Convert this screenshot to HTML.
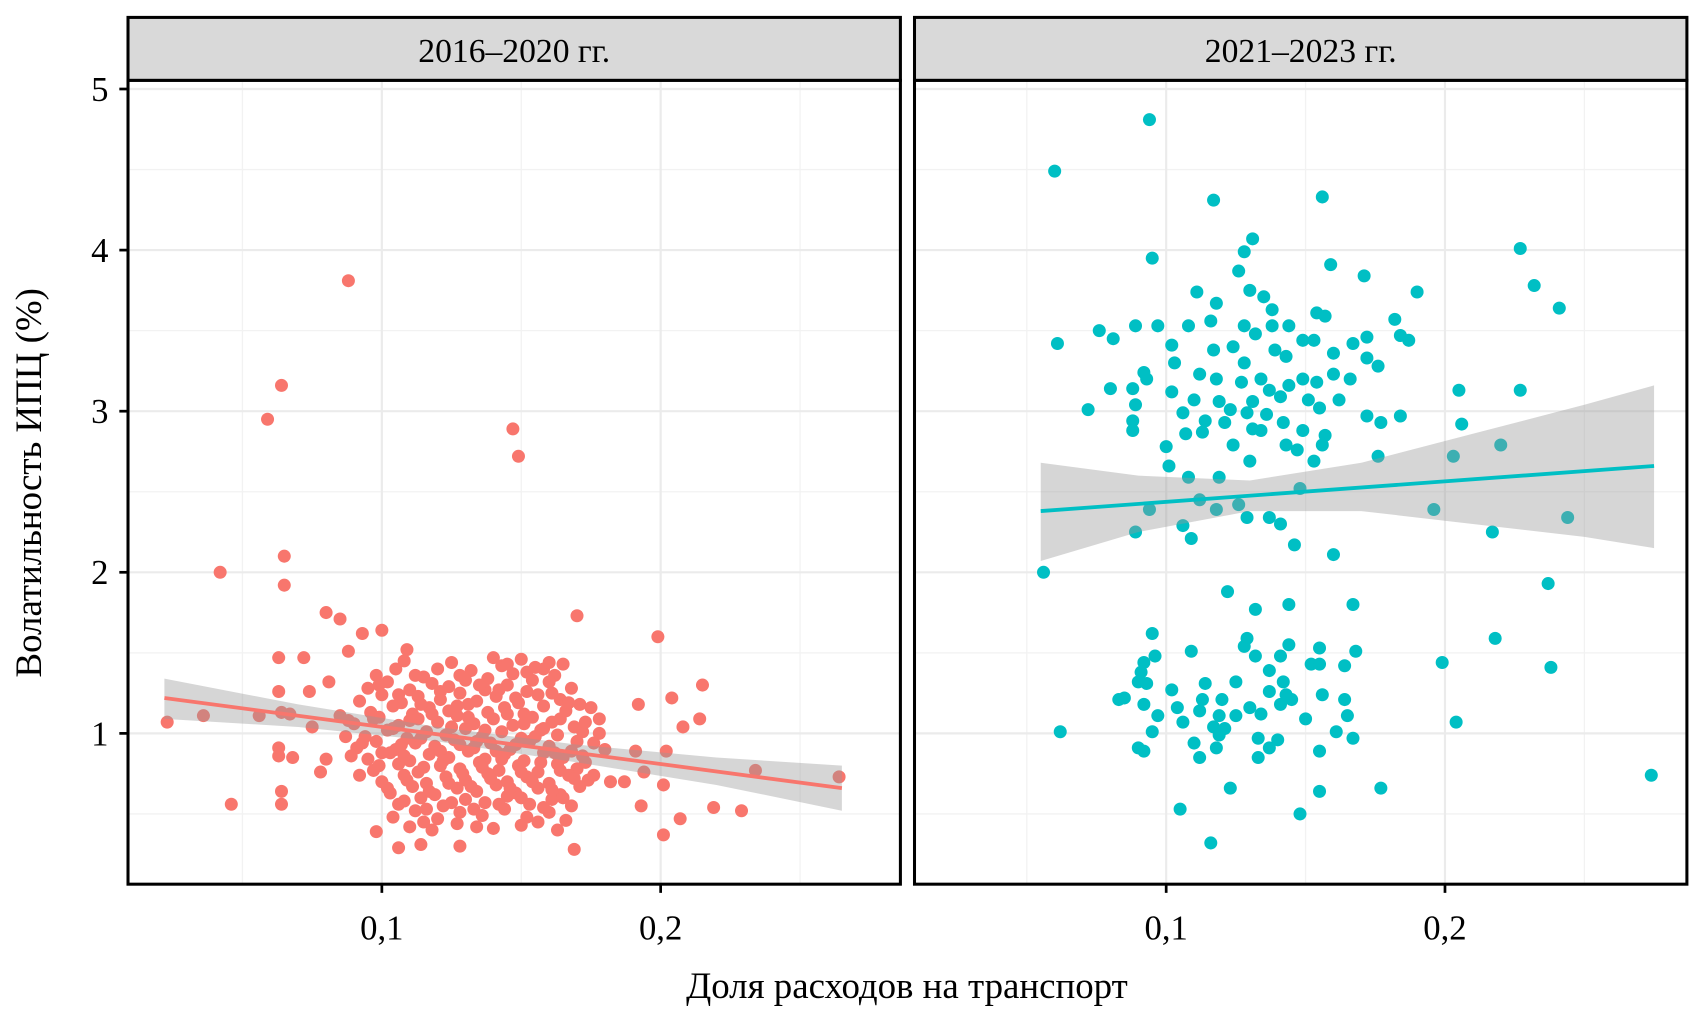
<!DOCTYPE html>
<html><head><meta charset="utf-8"><style>
html,body{margin:0;padding:0;background:#fff}
svg{display:block}
text{font-family:"Liberation Serif",serif;fill:#000}
</style></head><body>
<svg id="chart" width="1701" height="1022" viewBox="0 0 1568 942" xmlns="http://www.w3.org/2000/svg"></svg>
<script>
const yTicks=[1,2,3,4,5];
const yTickLabels=["1","2","3","4","5"];
const xTicks=[0.1,0.2];
const xTickLabels=["0,1","0,2"];
const panelTitles=["2016–2020 гг.","2021–2023 гг."];
const xTitle="Доля расходов на транспорт";
const yTitle="Волатильность ИПЦ (%)";

const p1Points=[[0.088,3.81],[0.064,3.16],[0.059,2.95],[0.147,2.89],[0.149,2.72],[0.042,2.00],[0.065,2.10],[0.065,1.92],[0.080,1.75],[0.085,1.71],[0.170,1.73],[0.199,1.60],[0.093,1.62],[0.100,1.64],[0.109,1.52],[0.088,1.51],[0.063,1.47],[0.072,1.47],[0.023,1.07],[0.036,1.11],[0.056,1.11],[0.046,0.56],[0.064,0.56],[0.064,0.64],[0.063,0.86],[0.068,0.85],[0.063,0.91],[0.078,0.76],[0.080,0.84],[0.098,0.39],[0.106,0.29],[0.114,0.31],[0.128,0.30],[0.169,0.28],[0.201,0.37],[0.207,0.47],[0.219,0.54],[0.229,0.52],[0.193,0.55],[0.234,0.77],[0.264,0.73],[0.215,1.30],[0.204,1.22],[0.192,1.18],[0.208,1.04],[0.214,1.09],[0.202,0.89],[0.191,0.89],[0.194,0.76],[0.187,0.70],[0.182,0.70],[0.201,0.68],[0.063,1.26],[0.064,1.13],[0.067,1.12],[0.074,1.26],[0.081,1.32],[0.085,1.11],[0.075,1.04],
[0.125,1.44],[0.140,1.47],[0.143,1.42],[0.150,1.46],[0.158,1.40],[0.165,1.43],
[0.098,1.36],[0.105,1.40],[0.115,1.35],[0.132,1.39],[0.138,1.34],[0.147,1.37],[0.155,1.41],[0.162,1.36],
[0.095,1.28],[0.102,1.32],[0.110,1.27],[0.118,1.31],[0.124,1.29],[0.130,1.33],[0.137,1.27],[0.145,1.30],[0.152,1.26],[0.160,1.32],[0.168,1.28],
[0.092,1.20],[0.100,1.24],[0.107,1.19],[0.113,1.23],[0.121,1.21],[0.128,1.25],[0.134,1.20],[0.141,1.23],[0.149,1.19],[0.156,1.24],[0.164,1.21],[0.171,1.18],
[0.096,1.13],[0.104,1.17],[0.111,1.12],[0.117,1.16],[0.124,1.14],[0.131,1.18],[0.138,1.13],[0.144,1.16],[0.151,1.12],[0.158,1.17],[0.166,1.14],[0.175,1.16],
[0.090,1.06],[0.099,1.10],[0.106,1.05],[0.113,1.09],[0.120,1.07],[0.127,1.11],[0.133,1.06],[0.140,1.09],[0.147,1.05],[0.154,1.10],[0.161,1.07],[0.169,1.04],[0.178,1.09],
[0.094,0.98],[0.102,1.02],[0.109,0.97],[0.116,1.01],[0.123,0.99],[0.130,1.03],[0.136,0.98],[0.143,1.01],[0.150,0.97],[0.157,1.02],[0.163,0.99],[0.172,1.01],
[0.091,0.91],[0.098,0.95],[0.105,0.90],[0.112,0.94],[0.119,0.92],[0.126,0.96],[0.133,0.91],[0.139,0.94],[0.146,0.90],[0.153,0.95],[0.160,0.92],[0.168,0.89],[0.176,0.94],
[0.095,0.84],[0.103,0.88],[0.110,0.83],[0.117,0.87],[0.124,0.85],[0.131,0.89],[0.137,0.84],[0.144,0.87],[0.151,0.83],[0.158,0.88],[0.165,0.85],[0.173,0.82],
[0.097,0.77],[0.106,0.81],[0.113,0.76],[0.121,0.80],[0.128,0.78],[0.135,0.82],[0.142,0.77],[0.149,0.80],[0.156,0.76],[0.163,0.81],[0.170,0.78],
[0.100,0.70],[0.108,0.74],[0.116,0.69],[0.123,0.73],[0.130,0.71],[0.138,0.75],[0.145,0.70],[0.152,0.73],[0.160,0.69],[0.167,0.74],[0.174,0.71],
[0.103,0.63],[0.111,0.67],[0.119,0.62],[0.127,0.66],[0.134,0.64],[0.141,0.68],[0.148,0.63],[0.156,0.66],[0.164,0.62],[0.171,0.67],
[0.106,0.56],[0.114,0.60],[0.122,0.55],[0.130,0.59],[0.137,0.57],[0.145,0.61],[0.153,0.56],[0.161,0.59],[0.168,0.55],
[0.104,0.48],[0.112,0.52],[0.120,0.47],[0.128,0.51],[0.136,0.49],[0.144,0.53],[0.152,0.48],[0.160,0.51],[0.166,0.46],
[0.110,0.42],[0.118,0.40],[0.127,0.44],[0.140,0.41],[0.150,0.43],[0.163,0.40]];

const p1Extra=[[0.099,1.30],[0.106,1.24],[0.114,1.18],[0.121,1.26],[0.127,1.17],[0.135,1.30],[0.142,1.27],[0.148,1.22],[0.154,1.33],[0.161,1.25],[0.167,1.19],
[0.097,1.09],[0.104,1.03],[0.110,1.08],[0.118,1.12],[0.125,1.04],[0.131,1.10],[0.137,1.02],[0.145,1.12],[0.151,1.06],[0.158,1.03],[0.164,1.09],[0.173,1.07],
[0.093,0.94],[0.100,0.88],[0.107,0.93],[0.114,0.97],[0.121,0.89],[0.128,0.93],[0.134,0.95],[0.141,0.89],[0.148,0.93],[0.155,0.98],[0.162,0.88],[0.170,0.95],
[0.099,0.80],[0.108,0.86],[0.115,0.79],[0.122,0.83],[0.129,0.75],[0.136,0.79],[0.143,0.84],[0.150,0.76],[0.157,0.82],[0.164,0.77],[0.172,0.86],
[0.102,0.66],[0.109,0.71],[0.117,0.64],[0.124,0.69],[0.132,0.67],[0.139,0.72],[0.146,0.66],[0.154,0.70],[0.161,0.65],[0.169,0.72],
[0.108,0.58],[0.116,0.53],[0.125,0.57],[0.133,0.53],[0.142,0.56],[0.150,0.60],[0.158,0.54],[0.165,0.60],
[0.112,1.36],[0.120,1.40],[0.128,1.36],[0.145,1.43],[0.152,1.38],[0.160,1.44],[0.108,1.45],[0.088,1.08],[0.087,0.98],[0.089,0.86],[0.092,0.74],[0.180,0.90],[0.178,1.00],[0.176,0.74],[0.115,0.45],[0.134,0.42],[0.156,0.45]];

const p2Points=[[0.094,4.81],[0.060,4.49],[0.117,4.31],[0.156,4.33],[0.131,4.07],[0.095,3.95],[0.128,3.99],[0.159,3.91],[0.171,3.84],[0.227,4.01],[0.232,3.78],[0.241,3.64],[0.190,3.74],[0.126,3.87],[0.111,3.74],[0.118,3.67],[0.130,3.75],[0.135,3.71],[0.138,3.63],[0.154,3.61],[0.157,3.59],[0.076,3.50],[0.081,3.45],[0.089,3.53],[0.097,3.53],[0.061,3.42],[0.102,3.41],[0.108,3.53],[0.116,3.56],[0.128,3.53],[0.132,3.48],[0.138,3.53],[0.144,3.53],[0.149,3.44],[0.153,3.44],[0.167,3.42],[0.172,3.46],[0.182,3.57],[0.184,3.47],[0.187,3.44],[0.103,3.30],[0.117,3.38],[0.124,3.40],[0.128,3.30],[0.139,3.38],[0.143,3.34],[0.160,3.36],[0.172,3.33],[0.176,3.28],[0.092,3.24],[0.093,3.20],[0.080,3.14],[0.088,3.14],[0.112,3.23],[0.118,3.20],[0.127,3.18],[0.134,3.20],[0.137,3.13],[0.144,3.16],[0.149,3.20],[0.154,3.18],[0.160,3.23],[0.166,3.20],[0.102,3.12],[0.110,3.07],[0.119,3.06],[0.131,3.06],[0.141,3.09],[0.151,3.07],[0.162,3.07],[0.205,3.13],[0.227,3.13],[0.089,3.04],[0.072,3.01],[0.106,2.99],[0.123,3.01],[0.129,2.99],[0.136,2.98],[0.155,3.02],[0.172,2.97],[0.184,2.97],[0.088,2.94],[0.114,2.94],[0.121,2.93],[0.142,2.93],[0.177,2.93],[0.149,2.88],[0.088,2.88],[0.107,2.86],[0.113,2.87],[0.131,2.89],[0.134,2.88],[0.157,2.85],[0.206,2.92],[0.100,2.78],[0.124,2.79],[0.143,2.79],[0.147,2.76],[0.156,2.79],[0.220,2.79],[0.101,2.66],[0.130,2.69],[0.153,2.69],[0.176,2.72],[0.203,2.72],[0.108,2.59],[0.119,2.59],[0.148,2.52],[0.112,2.45],[0.118,2.39],[0.094,2.39],[0.126,2.42],[0.129,2.34],[0.137,2.34],[0.141,2.30],[0.196,2.39],[0.244,2.34],[0.089,2.25],[0.106,2.29],[0.109,2.21],[0.146,2.17],[0.160,2.11],[0.217,2.25],[0.056,2.00],[0.237,1.93],[0.122,1.88],[0.132,1.77],[0.144,1.80],[0.167,1.80],[0.218,1.59],[0.095,1.62],[0.129,1.59],[0.128,1.54],[0.109,1.51],[0.144,1.55],[0.155,1.53],[0.168,1.51],[0.096,1.48],[0.132,1.48],[0.141,1.48],[0.199,1.44],[0.238,1.41],[0.092,1.44],[0.152,1.43],[0.155,1.43],[0.164,1.42],[0.091,1.38],[0.137,1.39],[0.090,1.32],[0.093,1.31],[0.114,1.31],[0.125,1.32],[0.142,1.32],[0.137,1.26],[0.156,1.24],[0.102,1.27],[0.143,1.24],[0.085,1.22],[0.083,1.21],[0.113,1.21],[0.120,1.21],[0.145,1.21],[0.164,1.21],[0.092,1.18],[0.104,1.16],[0.112,1.14],[0.130,1.16],[0.134,1.12],[0.141,1.18],[0.097,1.11],[0.119,1.11],[0.125,1.11],[0.150,1.09],[0.165,1.11],[0.204,1.07],[0.106,1.07],[0.117,1.04],[0.121,1.03],[0.095,1.01],[0.062,1.01],[0.119,0.99],[0.161,1.01],[0.167,0.97],[0.133,0.97],[0.140,0.96],[0.110,0.94],[0.118,0.91],[0.090,0.91],[0.092,0.89],[0.137,0.91],[0.155,0.89],[0.112,0.85],[0.133,0.85],[0.274,0.74],[0.123,0.66],[0.155,0.64],[0.177,0.66],[0.105,0.53],[0.148,0.50],[0.116,0.32]];

const p1FitX=[0.022,0.265], p1FitY=[1.22,0.66];
const p1BandX=[0.022,0.07,0.12,0.17,0.22,0.265];
const p1BandHi=[1.34,1.18,1.04,0.93,0.85,0.80];
const p1BandLo=[1.09,1.04,0.95,0.82,0.68,0.52];
const p2FitX=[0.055,0.275], p2FitY=[2.38,2.66];
const p2BandX=[0.055,0.09,0.13,0.17,0.21,0.25,0.275];
const p2BandHi=[2.68,2.60,2.57,2.68,2.86,3.04,3.16];
const p2BandLo=[2.07,2.25,2.38,2.38,2.30,2.22,2.15];

const NS="http://www.w3.org/2000/svg";
const svg=document.getElementById('chart');
function mk(tag,attrs,parent){const e=document.createElementNS(NS,tag);for(const k in attrs)e.setAttribute(k,attrs[k]);(parent||svg).appendChild(e);return e;}
const Y=v=>676-(v-1)*148.5;
const panels=[{x0:118,x1:830,zero:352,pts:p1Points.concat(p1Extra),col:"#F8766D",fx:p1FitX,fy:p1FitY,bx:p1BandX,bh:p1BandHi,bl:p1BandLo},
              {x0:843,x1:1555,zero:1075,pts:p2Points,col:"#00BFC4",fx:p2FitX,fy:p2FitY,bx:p2BandX,bh:p2BandHi,bl:p2BandLo}];
const pTop=74,pBot=815;
panels.forEach((p,i)=>{
  const X=v=>p.zero+(v-0.1)*2570;
  const g=mk('g',{});
  
  
  mk('rect',{x:p.x0,y:pTop,width:p.x1-p.x0,height:pBot-pTop,fill:'#fff'},g);
  [0.5,1.5,2.5,3.5,4.5].forEach(v=>{const l=mk('line',{x1:p.x0,x2:p.x1,y1:Y(v),y2:Y(v),stroke:'#f2f2f2','stroke-width':1.2},g);});
  [0.05,0.15,0.25].forEach(v=>{const l=mk('line',{x1:X(v),x2:X(v),y1:pTop,y2:pBot,stroke:'#f2f2f2','stroke-width':1.2},g);});
  yTicks.forEach(v=>{const l=mk('line',{x1:p.x0,x2:p.x1,y1:Y(v),y2:Y(v),stroke:'#ebebeb','stroke-width':2},g);});
  xTicks.forEach(v=>{const l=mk('line',{x1:X(v),x2:X(v),y1:pTop,y2:pBot,stroke:'#ebebeb','stroke-width':2},g);});
  p.pts.forEach(d=>{const c=mk('circle',{cx:X(d[0]),cy:Y(d[1]),r:6,fill:p.col},g);});
  let dp=p.bx.map((x,k)=>`${k?'L':'M'}${X(x)},${Y(p.bh[k])}`).join('');
  for(let k=p.bx.length-1;k>=0;k--)dp+=`L${X(p.bx[k])},${Y(p.bl[k])}`;
  const band=mk('path',{d:dp+'Z',fill:'#999','fill-opacity':0.4},g);
  
  const fl=mk('line',{x1:X(p.fx[0]),y1:Y(p.fy[0]),x2:X(p.fx[1]),y2:Y(p.fy[1]),stroke:p.col,'stroke-width':3.5},g);
  
  const br=mk('rect',{x:p.x0,y:pTop,width:p.x1-p.x0,height:pBot-pTop,fill:'none',stroke:'#000','stroke-width':2.8},g);
  
  const st=mk('rect',{x:p.x0,y:16,width:p.x1-p.x0,height:58,fill:'#d9d9d9',stroke:'#000','stroke-width':2.8},g);
  
  const tt=mk('text',{x:(p.x0+p.x1)/2,y:57,'text-anchor':'middle','font-size':31},g);tt.textContent=panelTitles[i];
  
  xTicks.forEach((v,k)=>{mk('line',{x1:X(v),x2:X(v),y1:pBot,y2:pBot+8,stroke:'#000','stroke-width':2.5},g);
    const t=mk('text',{x:X(v),y:866,'text-anchor':'middle','font-size':32},g);t.textContent=xTickLabels[k];
    });
});
yTicks.forEach((v,k)=>{mk('line',{x1:110,x2:118,y1:Y(v),y2:Y(v),stroke:'#000','stroke-width':2.5});
  const t=mk('text',{x:100,y:Y(v)+11,'text-anchor':'end','font-size':32});t.textContent=yTickLabels[k];
  });
const xt=mk('text',{x:836,y:920,'text-anchor':'middle','font-size':34});xt.textContent=xTitle;

const yt=mk('text',{x:0,y:0,'text-anchor':'middle','font-size':34,transform:'translate(38,445) rotate(-90)'});yt.textContent=yTitle;

</script>
</body></html>
